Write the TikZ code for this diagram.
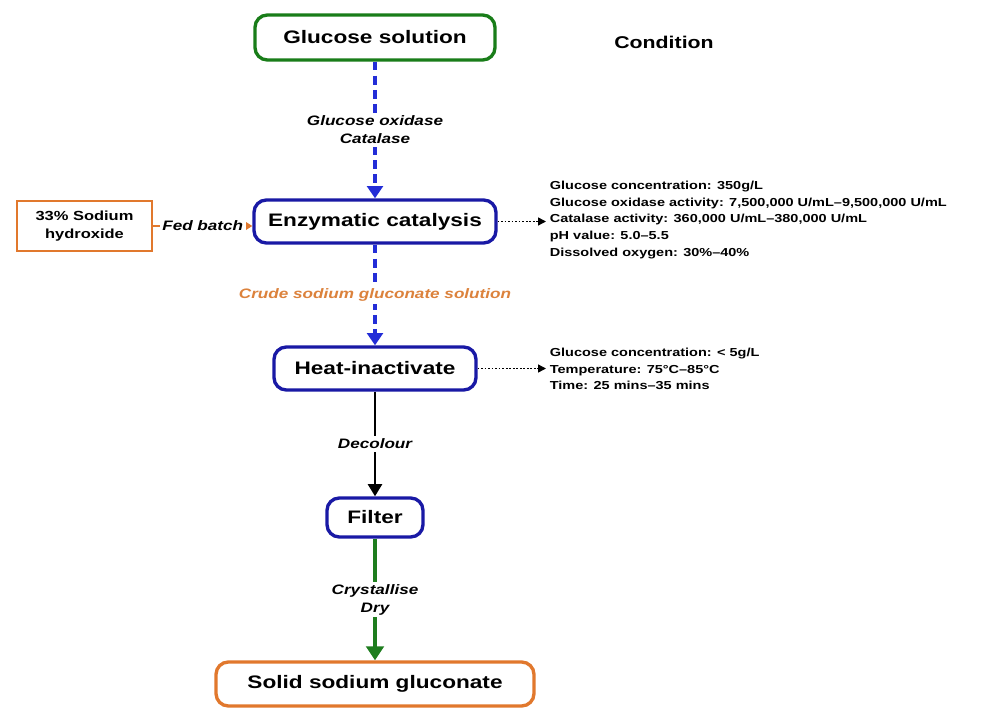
\documentclass[tikz,border=0pt]{standalone}
\usepackage{fontspec}
\setmainfont[FakeStretch=1.25]{Liberation Sans}
\usetikzlibrary{arrows.meta}
\definecolor{boxgreen}{RGB}{25,125,25}
\definecolor{boxblue}{RGB}{25,25,165}
\definecolor{arrblue}{RGB}{35,45,215}
\definecolor{arrgreen}{RGB}{30,125,30}
\definecolor{boxorange}{RGB}{225,120,45}
\definecolor{txtorange}{RGB}{220,130,60}
\begin{document}
\begin{tikzpicture}
        [x=0.02cm, y=-0.02cm, inner sep=0pt,
        process/.style={rectangle,rounded corners=7pt,line width=1.9pt,fill=white,font=\fontsize{10.3}{12}\selectfont\bfseries},
        startbox/.style={process,draw=boxgreen},
        bluebox/.style={process,draw=boxblue},
        endbox/.style={process,draw=boxorange},
        feedbox/.style={rectangle,draw=boxorange,line width=1.3pt,align=center,font=\fontsize{7.5}{10.2}\selectfont\bfseries},
        lbl/.style={fill=white,text=black,inner sep=1.5pt,align=center,font=\fontsize{7.8}{10.2}\selectfont\bfseries\itshape},
        cond/.style={anchor=west,align=left,inner sep=2pt,font=\fontsize{6.6}{9.4}\selectfont\bfseries},
        dasharr/.style={-{Triangle[width=9pt,length=7pt]},arrblue,line width=2.1pt,dash pattern=on 5pt off 3pt},
        feedarr/.style={-{Triangle[width=6pt,length=5pt]},boxorange,line width=1.3pt},
        dotarr/.style={-{Triangle[width=4.5pt,length=4.5pt]},black,line width=0.8pt,dash pattern=on 1pt off 1pt},
        blackarr/.style={-{Triangle[width=8pt,length=7pt]},black,line width=1.5pt},
        greenarr/.style={-{Triangle[width=10pt,length=8pt]},arrgreen,line width=2.1pt}]
        \useasboundingbox (0,0) rectangle (1000,709);
        \node (glucose) at (375,37.5) [startbox,minimum width=4.8cm,minimum height=0.9cm] {Glucose solution};
        \node (enzyme) at (375,221.5) [bluebox,minimum width=4.84cm,minimum height=0.86cm] {Enzymatic catalysis};
        \node (naoh) at (84.5,226) [feedbox,minimum width=2.7cm,minimum height=1cm] {33\% Sodium\\hydroxide};
        \node (heat) at (375,368.5) [bluebox,minimum width=4.04cm,minimum height=0.86cm] {Heat-inactivate};
        \node (filter) at (375,517.5) [bluebox,minimum width=1.92cm,minimum height=0.78cm] {Filter};
        \node (solid) at (375,684) [endbox,minimum width=6.36cm,minimum height=0.88cm] {Solid sodium gluconate};
        \node (condition) at (664,42) [font=\fontsize{9.7}{12}\selectfont\bfseries] {Condition};
        \node (cond1) at (546,220) [cond] {Glucose concentration: 350g/L\\
          Glucose oxidase activity: 7,500,000 U/mL--9,500,000 U/mL\\
          Catalase activity: 360,000 U/mL--380,000 U/mL\\
          pH value: 5.0--5.5\\
          Dissolved oxygen: 30\%--40\%};
        \node (cond2) at (546,369) [cond] {Glucose concentration: < 5g/L\\
          Temperature: 75°C--85°C\\
          Time: 25 mins--35 mins};
        \draw[dasharr] (glucose) -- (enzyme) node[midway,lbl] {Glucose oxidase\\Catalase};
        \draw[feedarr] (naoh.east) -- (naoh.east -| enzyme.west) node[midway,lbl] {Fed batch};
        \draw[dotarr] (enzyme) -- (enzyme -| cond1.west);
        \draw[dasharr] (enzyme) -- (heat) node[midway,lbl,text=txtorange] {Crude sodium gluconate solution};
        \draw[dotarr] (heat) -- (heat -| cond2.west);
        \draw[blackarr] (heat) -- (filter) node[midway,lbl] {Decolour};
        \draw[greenarr] (filter) -- (solid) node[midway,lbl] {Crystallise\\Dry};
      \end{tikzpicture}
\end{document}
